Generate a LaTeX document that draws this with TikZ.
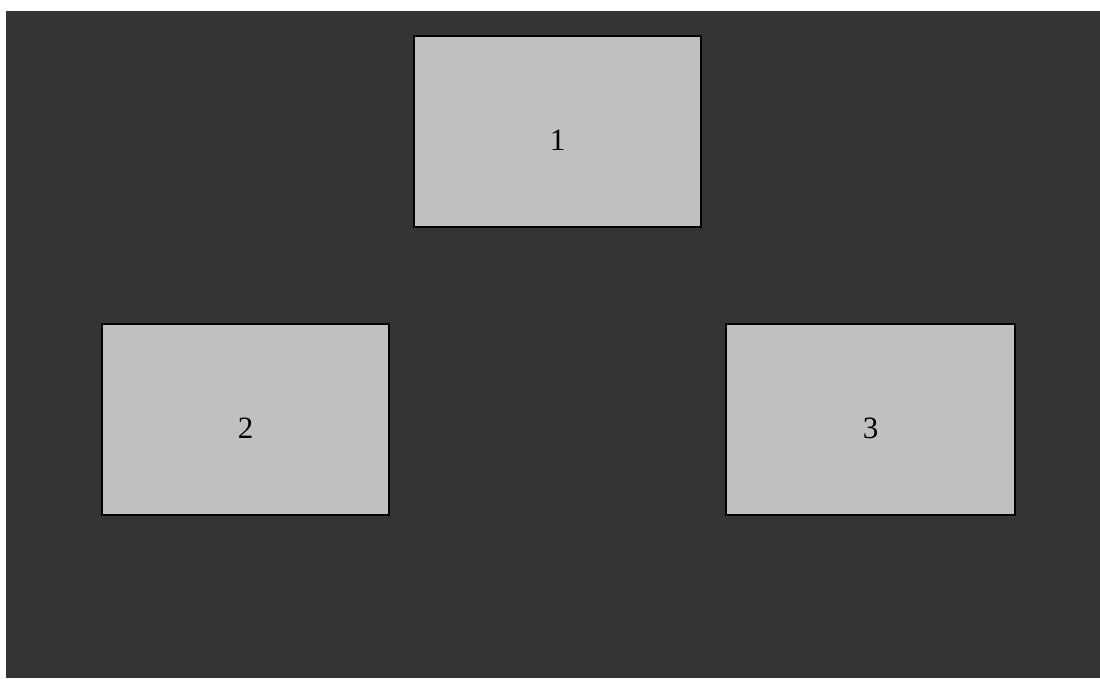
\documentclass[tikz,border=0pt]{standalone}
\usepackage{fontspec}
\setmainfont{Liberation Serif}
\definecolor{bgdark}{HTML}{343434}
\definecolor{boxgray}{HTML}{C0C0C0}
\begin{document}
\begin{tikzpicture}[x=1pt,y=-1pt,
  box/.style={draw=black,line width=1.8pt,fill=boxgray,minimum width=287pt,minimum height=191pt,inner sep=0pt,text height=37pt,text depth=0pt,font=\fontsize{31}{34}\selectfont}]
\useasboundingbox (0,0) rectangle (1100,678);
\fill[bgdark] (6,11) rectangle (1100,678);
\node[box] (n1) at (557.5,131.5) {1};
\node[box] (n2) at (245.5,419.5) {2};
\node[box,minimum width=289pt] (n3) at (870.5,419.5) {3};
\end{tikzpicture}
\end{document}
